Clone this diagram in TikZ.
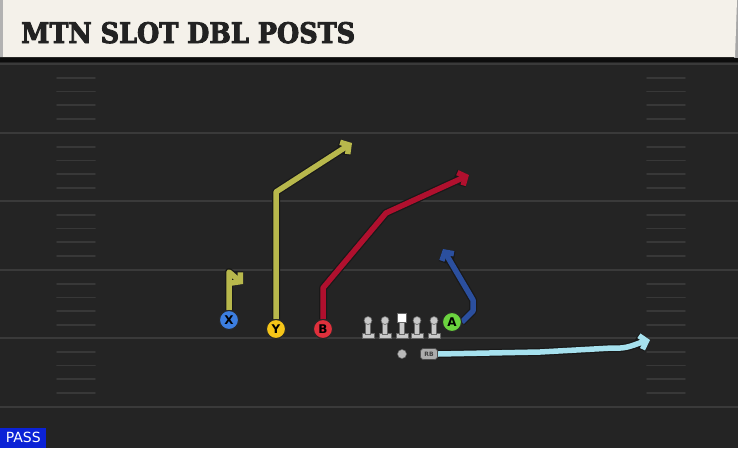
\documentclass[tikz,border=0pt]{standalone}
\usepackage{fontspec}
\usetikzlibrary{arrows.meta}
\newfontfamily\titlefont{DejaVu Serif Condensed}[BoldFeatures={FakeBold=3}]
\newfontfamily\uifont{DejaVu Sans}
\definecolor{field}{HTML}{242424}
\definecolor{yardc}{HTML}{3A3A3A}
\definecolor{hashc}{HTML}{383838}
\definecolor{cream}{HTML}{F4F1EA}
\definecolor{titlec}{HTML}{222222}
\definecolor{olive}{HTML}{B8B84C}
\definecolor{redr}{HTML}{B0102E}
\definecolor{bluer}{HTML}{2B4F9E}
\definecolor{skyr}{HTML}{A6E1EE}
\definecolor{xcol}{HTML}{3C7EE0}
\definecolor{ycol}{HTML}{F5C518}
\definecolor{bcol}{HTML}{E0303C}
\definecolor{acol}{HTML}{6BD33F}
\definecolor{olc}{HTML}{C8C8C8}
\definecolor{passc}{HTML}{0B22D6}
\tikzset{
  yard/.style={draw=yardc, line width=2pt},
  hash/.style={draw=hashc, line width=1.6pt, line cap=round},
  player/.style={circle, draw=black!85, line width=1pt, minimum size=19pt, inner sep=0pt, font=\uifont\bfseries\fontsize{12}{12}\selectfont, text=black},
  routeout/.style={draw=black!90, line width=8pt, line join=round, -{Straight Barb[length=6pt,width=14pt]}},
  routein/.style={line width=5.5pt, line join=round, -{Straight Barb[length=6pt,width=14pt]}},
  lineman/.style={fill=olc, draw=black!60, line width=0.6pt},
  rbstyle/.style={rounded corners=3pt, fill=gray!65, draw=black!70, line width=0.6pt, minimum width=17pt, minimum height=11pt, inner sep=0pt, font=\uifont\bfseries\fontsize{6}{6}\selectfont, text=black!75},
}
\begin{document}
\begin{tikzpicture}[x=1pt,y=-1pt]
\useasboundingbox (0,0) rectangle (738,448);
\fill[field] (0,0) rectangle (738,448);
% yard lines
\foreach \yy in {64,133,201,270,338,407} \draw[yard] (0,\yy) -- (738,\yy);
% hash marks
\foreach \b in {64,133,201,270,338} {
  \foreach \k in {1,2,3,4} {
    \draw[hash] (57,\b+\k*13.7) -- (95,\b+\k*13.7);
    \draw[hash] (647,\b+\k*13.7) -- (685,\b+\k*13.7);
  }
}
% header
\fill[black!95] (0,56) rectangle (738,62);
\fill[gray!70] (734,0) rectangle (738,58);
\fill[cream] (0,0) -- (737,0) -- (735,57) -- (0,57) -- cycle;
\fill[gray!60] (0,0) rectangle (3,57);
\node[anchor=base west, inner sep=0pt, text=titlec] (title) at (21,43)
  {\resizebox{334pt}{21pt}{\titlefont\bfseries MTN SLOT DBL POSTS}};
% PASS tag
\node[anchor=south west, fill=passc, text=white, inner sep=0pt, minimum width=46pt, minimum height=20pt, font=\uifont\fontsize{14}{14}\selectfont] (pass) at (0,448) {PASS};
% players
\node[player, fill=xcol] (X) at (229,320) {X};
\node[player, fill=ycol] (Y) at (276,329) {Y};
\node[player, fill=bcol] (B) at (323,329) {B};
\node[player, fill=acol] (A) at (452,322) {A};
% line
\foreach \xx/\nm in {368/lt,385/lg,417/rg,434/rt} {
  \fill[lineman] (\xx-6,338) rectangle (\xx+6,333);
  \fill[lineman] (\xx-2.5,334) rectangle (\xx+2.5,322);
  \fill[lineman] (\xx,320.5) circle (4pt);
  \coordinate (\nm) at (\xx,328);
}
\fill[lineman] (396,338) rectangle (408,333);
\fill[lineman] (399.5,334) rectangle (404.5,322);
\fill[white, draw=black!60, line width=0.6pt] (397.5,313.5) rectangle (406.5,322.5);
\coordinate (C) at (402,328);
% QB and RB
\node[circle, fill=gray!55, draw=black!60, line width=0.5pt, minimum size=9pt, inner sep=0pt] (QB) at (402,354) {};
\node[rbstyle] (RB) at (429,354) {RB};
% route waypoints
\coordinate (x1) at (229,272);
\coordinate (x2) at (243,284);
\coordinate (y1) at (276,192);
\coordinate (y2) at (352,143);
\coordinate (b1) at (323,288);
\coordinate (b2) at (386,213);
\coordinate (b3) at (469,175);
\coordinate (a1) at (473,311);
\coordinate (a2) at (473,300);
\coordinate (a3) at (443,249);
\coordinate (r1) at (540,352);
\coordinate (r2) at (612,348);
\coordinate (r3) at (650,340);
% routes: outlines
\draw[routeout] (X.north) -- (x1) -- (x2);
\draw[routeout] (Y.north) -- (y1) -- (y2);
\draw[routeout] (B.north) -- (b1) -- (b2) -- (b3);
\draw[routeout] (A.east) -- (a1) -- (a2) -- (a3);
\draw[routeout] (RB.east) -- (r1) -- (r2) to[out=-5,in=195] (r3);
% routes: colour
\draw[routein, olive] (X.north) -- (x1) -- (x2);
\draw[routein, olive] (Y.north) -- (y1) -- (y2);
\draw[routein, redr] (B.north) -- (b1) -- (b2) -- (b3);
\draw[routein, bluer] (A.east) -- (a1) -- (a2) -- (a3);
\draw[routein, skyr] (RB.east) -- (r1) -- (r2) to[out=-5,in=195] (r3);
% redraw players above routes
\node[player, fill=xcol] at (X) {X};
\node[player, fill=ycol] at (Y) {Y};
\node[player, fill=bcol] at (B) {B};
\node[player, fill=acol] at (A) {A};
\node[rbstyle] at (RB) {RB};
\end{tikzpicture}
\end{document}
